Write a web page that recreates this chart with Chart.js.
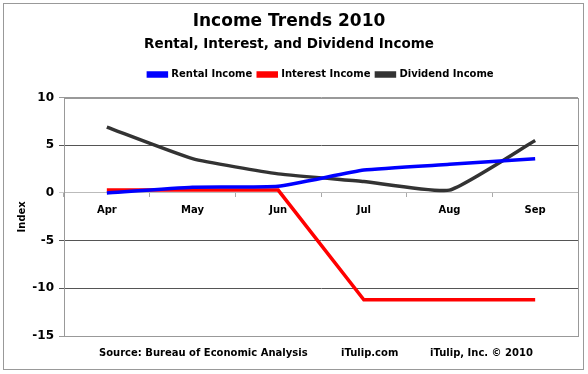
<!DOCTYPE html>
<html>
<head>
<meta charset="utf-8">
<script src="https://cdn.jsdelivr.net/npm/chart.js@4.4.1/dist/chart.umd.min.js"></script>
<style>
  body { margin: 0; background: #fff; }
  #wrap { position: relative; width: 588px; height: 374px; }
  #frame { position: absolute; left: 3px; top: 3px; width: 579px; height: 365px; border: 1px solid #999; }
  .foot { position: absolute; top: 347px; font: bold 10px "DejaVu Sans", Verdana, sans-serif; color: #000; white-space: nowrap; }
</style>
</head>
<body>
<div id="wrap">
  <div id="frame"></div>
  <canvas id="myChart" width="588" height="374"></canvas>
  <div class="foot" style="left:99px">Source: Bureau of Economic Analysis</div>
  <div class="foot" style="left:341px">iTulip.com</div>
  <div class="foot" style="left:430px">iTulip, Inc. © 2010</div>
</div>
<script>
// data
const months = ['Apr', 'May', 'Jun', 'Jul', 'Aug', 'Sep'];
const rental = [0.0, 0.6, 0.7, 2.4, 3.0, 3.6];
const interest = [0.3, 0.3, 0.3, -11.2, -11.2, -11.2];
const dividend = [6.9, 3.6, 2.0, 1.2, 0.3, 5.5];
const yTicks = [10, 5, 0, -5, -10, -15];

const FONT = '"DejaVu Sans", Verdana, sans-serif';

// box around the plot area
const plotBorder = {
  id: 'plotBorder',
  beforeDatasetsDraw(chart) {
    const a = chart.chartArea, c = chart.ctx;
    c.save();
    c.strokeStyle = '#999';
    c.lineWidth = 1;
    c.strokeRect(Math.round(a.left) + 0.5, Math.round(a.top) + 0.5, Math.round(a.right - a.left), Math.round(a.bottom - a.top));
    c.restore();
  }
};

// the legend sits a bit right of centre in the original
const legendShift = {
  id: 'legendShift',
  afterLayout(chart) {
    chart.legend.left += 32;
    chart.legend.right += 32;
  }
};

let plot = () => {
  const ctx = document.getElementById('myChart');
  const dataset = {
    labels: months,
    datasets: [
      { label: 'Rental Income', data: rental, borderColor: '#0000ff', backgroundColor: '#0000ff', borderWidth: 3.5, pointRadius: 0, tension: 0.15 },
      { label: 'Interest Income', data: interest, borderColor: '#ff0000', backgroundColor: '#ff0000', borderWidth: 3.5, pointRadius: 0, tension: 0 },
      { label: 'Dividend Income', data: dividend, borderColor: '#333333', backgroundColor: '#333333', borderWidth: 3.5, pointRadius: 0, tension: 0.15 }
    ]
  };

  const config = {
    type: 'line',
    data: dataset,
    plugins: [plotBorder, legendShift],
    options: {
      responsive: false,
      animation: false,
      devicePixelRatio: 1,
      layout: { padding: { left: 0, right: 10, top: 0, bottom: 38 } },
      plugins: {
        title: { display: true, text: 'Income Trends 2010', color: '#000', font: { family: FONT, size: 17, weight: 'bold' }, padding: { top: 11, bottom: 2 } },
        subtitle: { display: true, text: 'Rental, Interest, and Dividend Income', color: '#000', font: { family: FONT, size: 13.5, weight: 'bold' }, padding: { top: 3, bottom: 11 } },
        legend: {
          labels: { color: '#000', font: { family: FONT, size: 10, weight: 'bold' }, boxWidth: 18, boxHeight: 3, padding: 6 }
        },
        tooltip: { enabled: false }
      },
      scales: {
        x: {
          type: 'category',
          position: { y: 0 },
          offset: true,
          grid: { drawOnChartArea: false, offset: true, tickLength: 4, color: '#aaa' },
          border: { display: true, color: '#bbb' },
          ticks: { color: '#000', font: { family: FONT, size: 10, weight: 'bold' }, padding: 7 }
        },
        // empty spacer above the plot
        top: {
          type: 'category',
          position: 'top',
          grid: { display: false },
          border: { display: false },
          ticks: { display: false },
          afterFit: (scale) => { scale.height = 8; }
        },
        y: {
          min: -15,
          max: 10,
          afterBuildTicks: (scale) => { scale.ticks = yTicks.map(v => ({ value: v })); },
          afterFit: (scale) => { scale.width = 64; },
          grid: {
            tickLength: 5,
            color: (c) => (c.tick.value === 0 ? '#ccc' : (c.tick.value === 10 || c.tick.value === -15 ? '#999' : '#555'))
          },
          border: { display: true, color: '#999' },
          ticks: { color: '#000', font: { family: FONT, size: 12, weight: 'bold' }, padding: 5 },
          title: { display: true, text: 'Index', color: '#000', font: { family: FONT, size: 10, weight: 'bold' }, padding: { top: 16, bottom: 0 } }
        }
      }
    }
  };
  const chart = new Chart(ctx, config);
};

plot();
</script>
</body>
</html>
